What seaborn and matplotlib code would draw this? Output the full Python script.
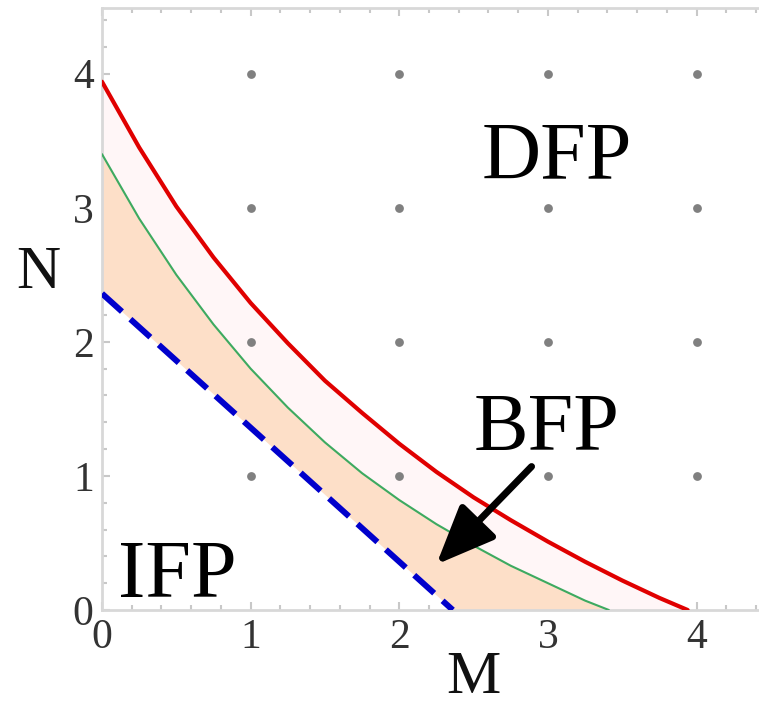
import numpy as np
import pandas as pd
import matplotlib
matplotlib.use("Agg")
import matplotlib.pyplot as plt
import seaborn as sns
from matplotlib.ticker import MultipleLocator

# ---- data ----
red_M = [0.0, 0.25, 0.5, 0.75, 1.0, 1.25, 1.5, 1.75, 2.0, 2.25, 2.5, 2.75, 3.0, 3.25, 3.5, 3.75, 3.94]
red_N = [3.94, 3.45, 3.01, 2.63, 2.29, 1.99, 1.71, 1.47, 1.24, 1.03, 0.84, 0.67, 0.51, 0.36, 0.22, 0.09, 0.0]

green_M = [0.0, 0.25, 0.5, 0.75, 1.0, 1.25, 1.5, 1.75, 2.0, 2.25, 2.5, 2.75, 3.0, 3.25, 3.41]
green_N = [3.40, 2.92, 2.50, 2.13, 1.80, 1.51, 1.25, 1.02, 0.82, 0.64, 0.48, 0.33, 0.20, 0.07, 0.0]

blue_M = [0.0, 0.5, 1.0, 1.5, 2.0, 2.36]
blue_N = [2.36, 1.86, 1.36, 0.86, 0.36, 0.0]

grid_M = [1, 2, 3, 4]
grid_N = [1, 2, 3, 4]

xticks = [0, 1, 2, 3, 4]
yticks = [0, 1, 2, 3, 4]

region_labels = ["DFP", "BFP", "IFP"]
region_M = [3.06, 2.99, 0.51]
region_N = [3.22, 1.19, 0.10]

arrow_from = (2.89, 1.07)
arrow_to = (2.25, 0.34)

# ---- styling ----
sns.set_style("white")
plt.rcParams["font.family"] = ["Liberation Serif", "DejaVu Serif"]

fig = plt.figure(figsize=(7.59, 7.08), dpi=100)
ax = fig.add_axes([102 / 759, 98 / 708, 657 / 759, 602 / 708])

# fills
poly_x = list(blue_M) + list(green_M[::-1])
poly_y = list(blue_N) + list(green_N[::-1])
ax.fill(poly_x, poly_y, color="#FDDFC8", lw=0, zorder=1)
poly_x2 = list(green_M) + list(red_M[::-1])
poly_y2 = list(green_N) + list(red_N[::-1])
ax.fill(poly_x2, poly_y2, color="#FFF6F7", lw=0, zorder=1)

# grid dots
gM, gN = np.meshgrid(grid_M, grid_N)
dots = pd.DataFrame({"M": gM.ravel(), "N": gN.ravel()})
sns.scatterplot(data=dots, x="M", y="N", color="#808080", s=40, linewidth=0, ax=ax, zorder=2)

# curves
sns.lineplot(x=blue_M, y=blue_N, color="#0000CC", lw=4.3, linestyle=(0, (4.5, 1.9)),
             sort=False, ax=ax, zorder=3)
sns.lineplot(x=green_M, y=green_N, color="#3DAA60", lw=1.5, sort=False, ax=ax, zorder=3)
sns.lineplot(x=red_M, y=red_N, color="#E00000", lw=3.0, sort=False, ax=ax, zorder=3)

# arrow
ax.annotate("", xy=arrow_to, xytext=arrow_from,
            arrowprops=dict(arrowstyle="-|>,head_length=1.0,head_width=0.42",
                            lw=5, color="black", mutation_scale=36,
                            shrinkA=0, shrinkB=0), zorder=5)

# region labels
for lab, mx, ny in zip(region_labels, region_M, region_N):
    ax.text(mx, ny, lab, ha="center", va="baseline", fontsize=59, color="black", zorder=6)

ax.set_xlim(0, 4.42)
ax.set_ylim(0, 4.49)
ax.set_xticks(xticks)
ax.set_yticks(yticks)
ax.xaxis.set_minor_locator(MultipleLocator(0.2))
ax.yaxis.set_minor_locator(MultipleLocator(0.2))
ax.tick_params(which="both", direction="in", top=True, right=False, bottom=True, left=True,
               color="#c8c8c8", width=1.5)
ax.tick_params(which="major", length=6, labelsize=30, labelcolor="#333333")
ax.tick_params(axis="y", which="major", pad=6)
ax.tick_params(axis="x", which="major", pad=6)
ax.tick_params(which="minor", length=3.5)
for side in ["left", "bottom", "top"]:
    ax.spines[side].set_color("#d8d8d8")
    ax.spines[side].set_linewidth(2)
ax.spines["right"].set_visible(False)
ax.set_xlabel("")
ax.set_ylabel("")

fig.text(473 / 759, 2 / 708, "M", ha="center", va="bottom", fontsize=44, color="#111111")
fig.text(38.5 / 759, (708 - 288) / 708, "N", ha="center", va="baseline", fontsize=44, color="#111111")

fig.savefig("out.png", dpi=100)
